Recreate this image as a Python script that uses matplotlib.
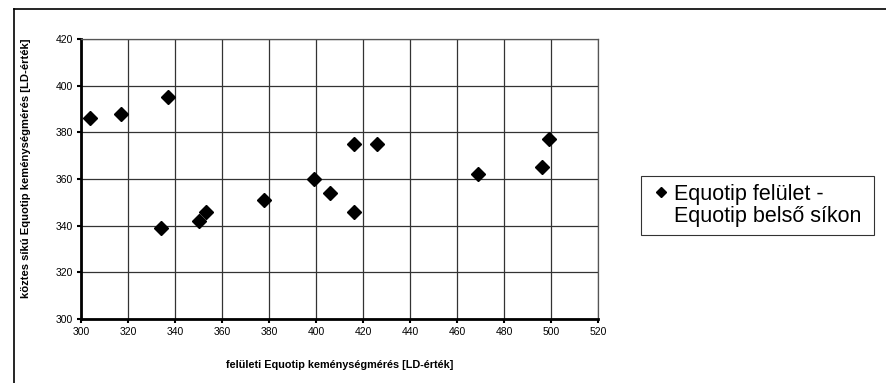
import matplotlib.pyplot as plt
from matplotlib.lines import Line2D

plt.rcParams['font.family'] = ['Liberation Sans', 'DejaVu Sans']

# felületi Equotip - belső síkon mért Equotip
felszini = [304, 317, 337, 334, 350, 353, 378, 399, 406, 416, 416, 426, 469, 496, 499]
belso = [386, 388, 395, 339, 342, 346, 351, 360, 354, 375, 346, 375, 362, 365, 377]
x_ticks = list(range(300, 521, 20))
y_ticks = list(range(300, 421, 20))
sor1 = 'Equotip felület -'
sor2 = 'Equotip belső síkon'

fig = plt.figure(figsize=(8.86, 3.83), dpi=100)
ax = fig.add_axes([81 / 886, 1 - 319 / 383, 517 / 886, 280 / 383])

ax.plot(felszini, belso, 'D', color='black', markersize=7)

ax.set_xlim(300, 520)
ax.set_ylim(300, 420)
ax.set_xticks(x_ticks)
ax.set_yticks(y_ticks)
ax.grid(True, color='#333333', linewidth=0.9)
ax.set_axisbelow(True)
ax.tick_params(labelsize=7.5, length=3, width=1.5, pad=3)

for s in ['top', 'right']:
    ax.spines[s].set_color('#555555')
    ax.spines[s].set_linewidth(0.9)
for s in ['left', 'bottom']:
    ax.spines[s].set_linewidth(2)

ax.set_xlabel('felületi Equotip keménységmérés [LD-érték]', fontsize=7.8,
              fontweight='bold', labelpad=16)
ax.set_ylabel('köztes síkú Equotip keménységmérés [LD-érték]', fontsize=8.1,
              fontweight='bold')
ax.yaxis.set_label_coords(-0.097, 0.539)

# jelmagyarázat: a marker az első sorhoz igazítva
h1 = Line2D([], [], marker='D', color='black', linestyle='none', markersize=5)
h2 = Line2D([], [], linestyle='none')
leg = ax.legend([h1, h2], [sor1, sor2], loc='center left',
                bbox_to_anchor=(641 / 886, 1 - 238 / 383, 233 / 886, 65 / 383),
                bbox_transform=fig.transFigure, fontsize=15.5, frameon=True, fancybox=False,
                handlelength=1.2, handletextpad=0.0, borderpad=0.35, labelspacing=0.05,
                mode='expand', borderaxespad=0)
leg.get_frame().set_edgecolor('black')
leg.get_frame().set_linewidth(0.8)

# keret a diagram körül
fig.add_artist(Line2D([14 / 886, 14 / 886], [0, 1 - 9 / 383], transform=fig.transFigure,
                      color='black', linewidth=1.2))
fig.add_artist(Line2D([14 / 886, 1], [1 - 9 / 383, 1 - 9 / 383], transform=fig.transFigure,
                      color='black', linewidth=1.2))

fig.savefig('out.png', dpi=100)
